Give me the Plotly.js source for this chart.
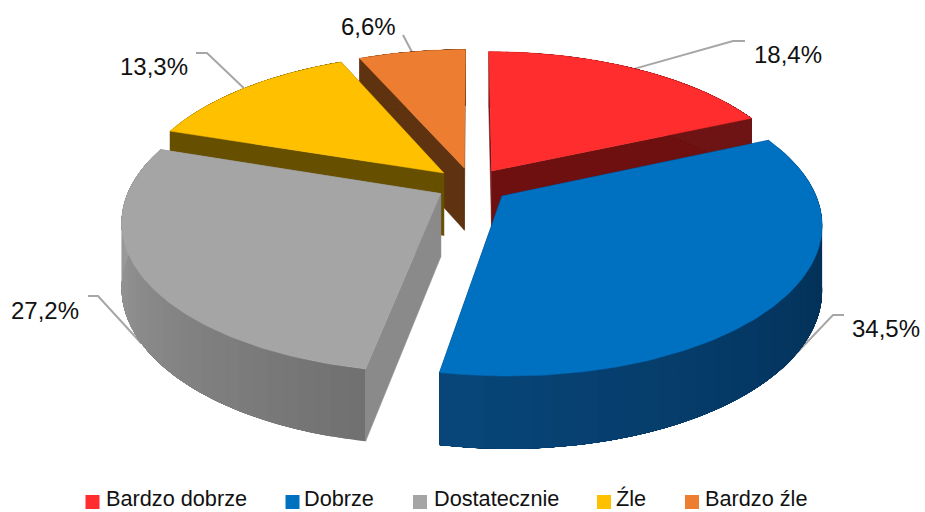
<!DOCTYPE html>
<html>
<head>
<meta charset="utf-8">
<script src="https://cdn.plot.ly/plotly-3.0.1.min.js"></script>
<style>html,body{margin:0;padding:0;background:#fff;}#chart{width:925px;height:512px;}</style>
</head>
<body>
<div id="chart"></div>
<script>
// ---- data ----
const categories = ['Bardzo dobrze', 'Dobrze', 'Dostatecznie', 'Źle', 'Bardzo źle'];
const shares = [18.4, 34.5, 27.2, 13.3, 6.6];
// ---- styles ----
const topColors = ['#ff2d2d', '#0070c0', '#a5a5a5', '#ffc000', '#ed7d31'];
const radialWall = ['#6e1010', '#003060', '#8a8a8a', '#665000', '#5f3310'];
const outerFrom = [[110, 20, 20], [0, 38, 70], [112, 112, 112], [102, 80, 0], [95, 51, 16]];
const outerTo = [[110, 20, 20], [8, 70, 122], [165, 165, 165], [102, 80, 0], [95, 51, 16]];
const drawOrder = [0, 4, 3, 2, 1];
// label placement (pixel-like axis units): text centre, then leader elbow and end
const labelX = [788, 886, 45, 154, 368];
const labelY = [54, 328, 310, 66, 26];
const elbowX = [733, 833, 98, 207, 403];
const elbowY = [41, 315, 296, 53, 35];
const endX = [745, 844, 88, 196, 403];
const endY = [41, 315, 296, 53, 35];
const leaderOnBase = [false, true, true, false, false];
// legend key and legend text positions
const keyX = [92.5, 292.5, 420, 604, 692];
const keyY = 502;
const keyTextX = [104, 302, 432, 614, 703];
const keyTextY = 498.5;

// ---- projection of the tilted disc ----
const cx = 472, cy = 185, Rx = 310, Ry = 144.5, k = 0.1733, thick = 63;
const explode = [0.118, 0.122, 0.116, 0.125, 0.122];
function project(X, Y, lower) {
  const d = 1 - k * Y;
  return [cx + Rx * X / d, cy + Ry * Y / d + (lower ? thick * Math.pow(d, -0.7) : 0)];
}
const total = shares.reduce((a, b) => a + b, 0);
const starts = [];
shares.reduce((acc, v, i) => { starts[i] = acc; return acc + v; }, 0);

function midAngle(i) { return (starts[i] + shares[i] / 2) / total * 2 * Math.PI; }
function rimPoint(i, frac, lower) {
  const mid = midAngle(i);
  const a = (starts[i] + shares[i] * frac) / total * 2 * Math.PI;
  return project(Math.sin(a) + explode[i] * Math.sin(mid), -Math.cos(a) - explode[i] * Math.cos(mid), lower);
}
function apex(i, lower) {
  const mid = midAngle(i);
  return project(explode[i] * Math.sin(mid), -explode[i] * Math.cos(mid), lower);
}
function poly(points, color, name, width) {
  return {
    type: 'scatter', mode: 'lines', x: points.map(p => p[0]), y: points.map(p => p[1]),
    fill: 'toself', fillcolor: color, line: { color: color, width: width },
    hoverinfo: 'skip', showlegend: false, name: name
  };
}
const traces = [];
// leader lines
categories.forEach((c, i) => {
  const s = rimPoint(i, 0.5, leaderOnBase[i]);
  traces.push({
    type: 'scatter', mode: 'lines', x: [s[0], elbowX[i], endX[i]], y: [s[1], elbowY[i], endY[i]],
    line: { color: '#a6a6a6', width: 2 }, hoverinfo: 'skip', showlegend: false
  });
});
// slices, back to front
const steps = 36, sub = 120;
drawOrder.forEach(i => {
  // radial walls
  [0, 1].forEach(f => {
    const r = rimPoint(i, f, false), rb = rimPoint(i, f, true);
    traces.push(poly([apex(i, false), r, rb, apex(i, true), apex(i, false)], radialWall[i], categories[i], 0.5));
  });
  // outer wall: shaded bands, each laid over the rest of the wall so no seams show
  for (let s = 0; s < steps; s++) {
    const f0 = s / steps;
    const upper = [], lowerEdge = [];
    for (let q = 0; q <= sub; q++) {
      const f = f0 + (1 - f0) * q / sub;
      upper.push(rimPoint(i, f, false));
      lowerEdge.unshift(rimPoint(i, f, true));
    }
    const t = (s + 0.5) / steps;
    const col = outerFrom[i].map((v, j) => Math.round(v + (outerTo[i][j] - v) * t));
    traces.push(poly(upper.concat(lowerEdge, [upper[0]]), 'rgb(' + col.join(',') + ')', categories[i], 0));
  }
  // top face
  const pts = [apex(i, false)];
  for (let s = 0; s <= 120; s++) pts.push(rimPoint(i, s / 120, false));
  pts.push(apex(i, false));
  traces.push(poly(pts, topColors[i], categories[i], 0.5));
});
// legend keys
categories.forEach((c, i) => {
  traces.push({
    type: 'scatter', mode: 'markers', x: [keyX[i]], y: [keyY], name: c,
    marker: { symbol: 'square', size: 14, color: topColors[i] }, hoverinfo: 'skip', showlegend: false
  });
});
const labelFont = { family: '"Liberation Sans", Arial, sans-serif', size: 24, color: '#111' };
const annotations = categories.map((c, i) => ({
  x: labelX[i], y: labelY[i], xref: 'x', yref: 'y', showarrow: false,
  text: shares[i].toFixed(1).replace('.', ',') + '%',
  font: labelFont, xanchor: 'center', yanchor: 'middle'
})).concat(categories.map((c, i) => ({
  x: keyTextX[i], y: keyTextY, xref: 'x', yref: 'y', showarrow: false, text: c,
  font: { family: '"Liberation Sans", Arial, sans-serif', size: 21.7, color: '#111' },
  xanchor: 'left', yanchor: 'middle'
})));
const layout = {
  width: 925, height: 512, margin: { l: 0, r: 0, t: 0, b: 0 },
  paper_bgcolor: '#fff', plot_bgcolor: '#fff',
  xaxis: { range: [0, 925], visible: false, fixedrange: true },
  yaxis: { range: [512, 0], visible: false, fixedrange: true },
  showlegend: false,
  annotations: annotations
};
Plotly.newPlot('chart', traces, layout, { displayModeBar: false, staticPlot: true });
</script>
</body>
</html>
